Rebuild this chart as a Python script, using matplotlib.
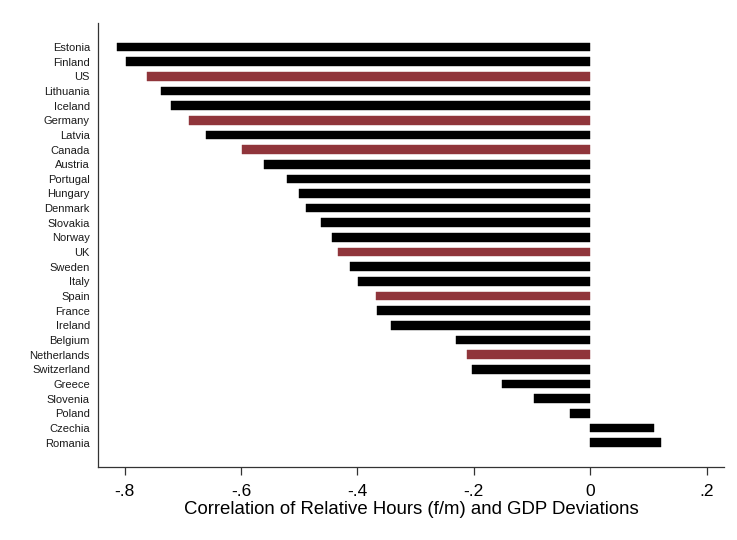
import matplotlib
matplotlib.use("Agg")
import matplotlib.pyplot as plt

countries = ["Estonia", "Finland", "US", "Lithuania", "Iceland", "Germany", "Latvia",
             "Canada", "Austria", "Portugal", "Hungary", "Denmark", "Slovakia", "Norway",
             "UK", "Sweden", "Italy", "Spain", "France", "Ireland", "Belgium",
             "Netherlands", "Switzerland", "Greece", "Slovenia", "Poland", "Czechia", "Romania"]
correlation = [-0.813, -0.797, -0.762, -0.738, -0.720, -0.690, -0.660,
               -0.599, -0.560, -0.521, -0.501, -0.489, -0.463, -0.444,
               -0.433, -0.413, -0.398, -0.368, -0.366, -0.342, -0.231,
               -0.211, -0.203, -0.152, -0.097, -0.034, 0.110, 0.121]
highlighted = ["US", "Germany", "Canada", "UK", "Spain", "Netherlands"]
x_ticks = [-0.8, -0.6, -0.4, -0.2, 0.0, 0.2]
x_tick_labels = ["-.8", "-.6", "-.4", "-.2", "0", ".2"]

plt.rcParams["font.family"] = ["Liberation Sans", "DejaVu Sans"]

fig = plt.figure(figsize=(7.37, 5.40), dpi=100)
ax = fig.add_axes([0.1334, 0.1357, 0.9824 - 0.1334, 0.958 - 0.1357])

pos = list(range(len(countries)))
colors = ["#90353B" if c in highlighted else "#000000" for c in countries]
ax.barh(pos, correlation, height=0.59, color=colors, edgecolor=colors, linewidth=0.3)

ax.set_ylim(28.65, -1.66)
ax.set_xlim(-0.845, 0.230)
ax.set_yticks(pos)
ax.set_yticklabels(countries, fontsize=8, color="#1a1a1a")
ax.tick_params(axis="y", length=0, pad=6)
ax.set_xticks(x_ticks)
ax.set_xticklabels(x_tick_labels, fontsize=12.5)
ax.tick_params(axis="x", length=6, width=0.9, color="#333333", pad=6.2)
ax.set_xlabel("Correlation of Relative Hours (f/m) and GDP Deviations", fontsize=13.4, labelpad=1.5)

for side in ("top", "right"):
    ax.spines[side].set_visible(False)
for side in ("left", "bottom"):
    ax.spines[side].set_linewidth(0.9)
    ax.spines[side].set_color("#333333")

fig.savefig("out.png", dpi=100)
